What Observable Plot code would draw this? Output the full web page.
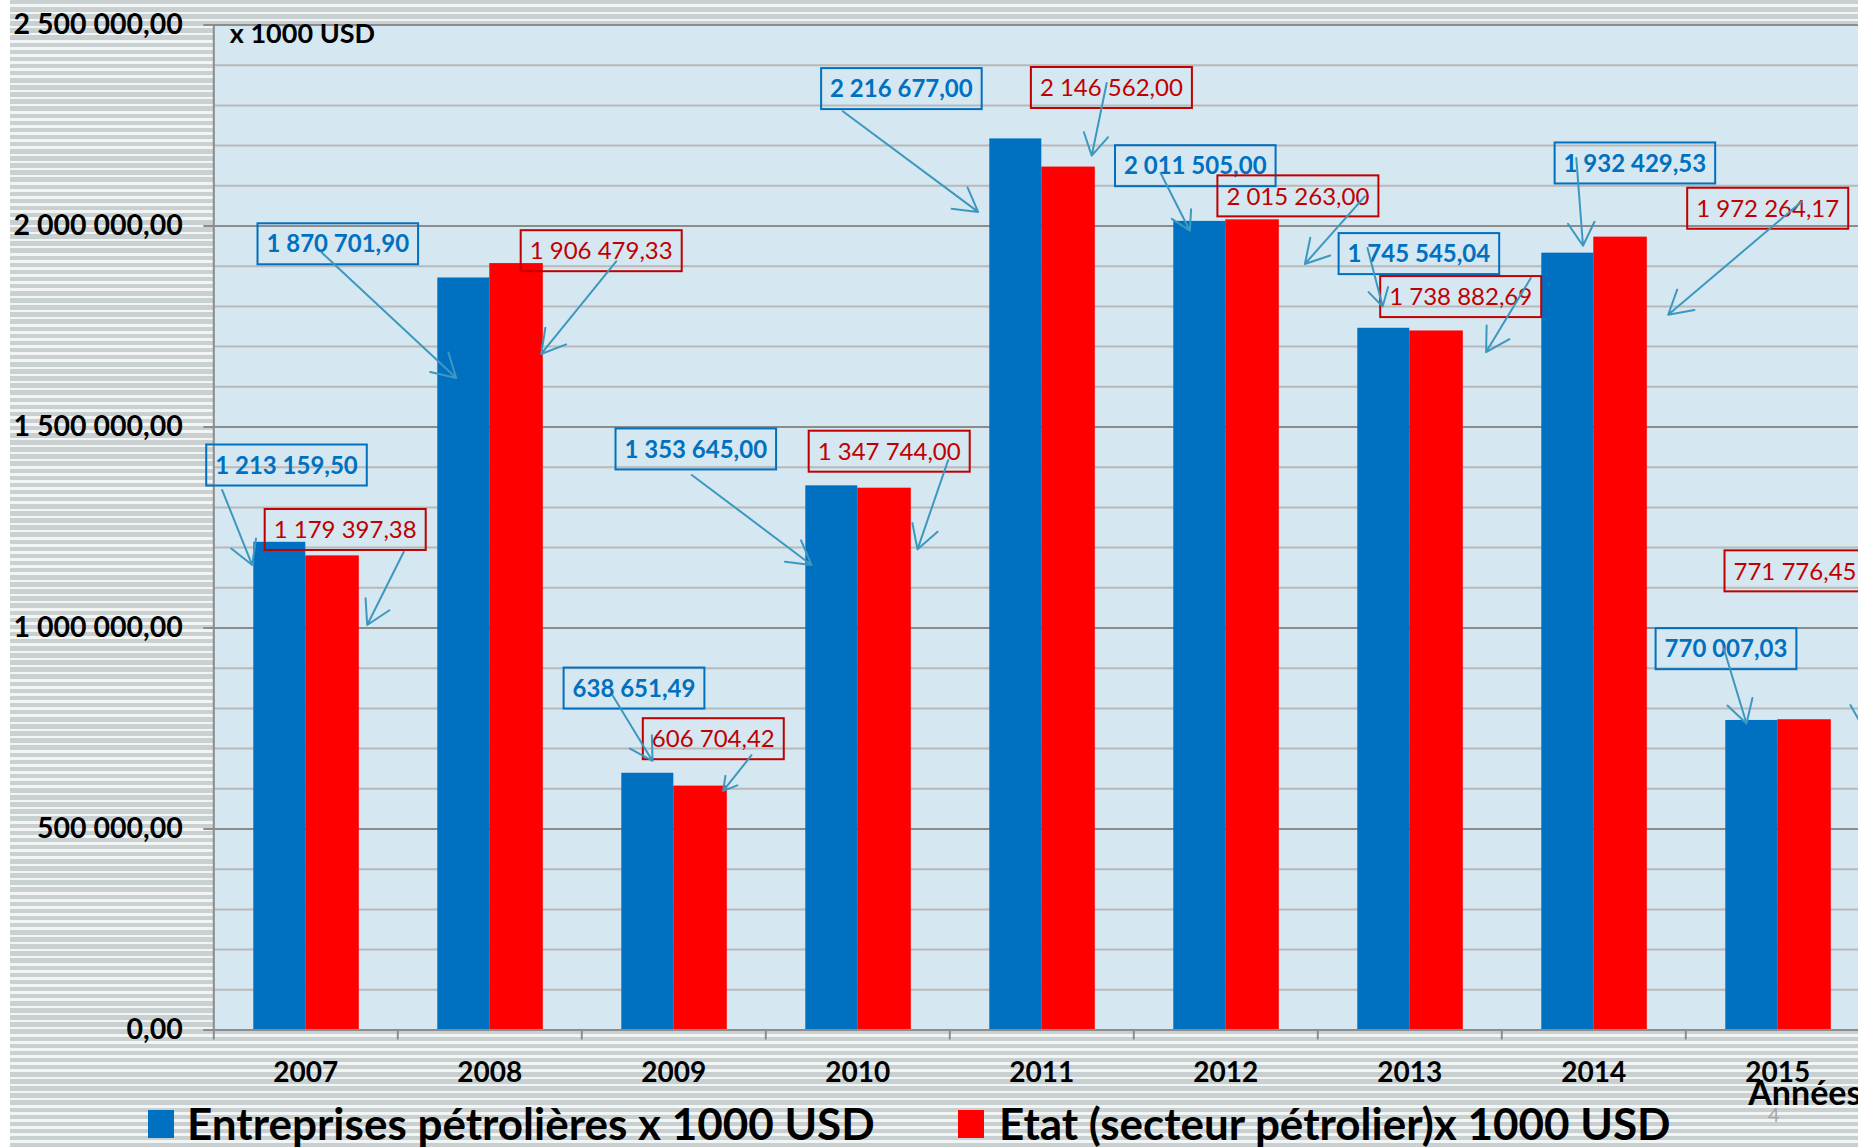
<!DOCTYPE html>
<html>
<head>
<meta charset="utf-8">
<script src="https://cdn.jsdelivr.net/npm/d3@7"></script>
<script src="https://cdn.jsdelivr.net/npm/@observablehq/plot@0.6"></script>
<style>
  html, body { margin: 0; padding: 0; width: 1858px; height: 1147px; overflow: hidden; }
  body {
    position: relative;
    font-family: Lato, "Open Sans", sans-serif;
    background:
      linear-gradient(to right, #ffffff 0 10px, transparent 10px),
      repeating-linear-gradient(to bottom, #c9d0d2 0 4.5px, #f3f4f4 4.5px 7.1px);
  }
  #chart svg { display: block; }
  .sw { position: absolute; width: 26px; height: 28px; }
  .lt { position: absolute; font: bold 44px Lato, sans-serif; line-height: 1; white-space: nowrap; color: #000; }
  .pg { position: absolute; font: 20px Lato, sans-serif; line-height: 1; color: #a6a6a6; }
</style>
</head>
<body>
<div id="chart"></div>
<script>
// ---------- data ----------
const years = ["2007", "2008", "2009", "2010", "2011", "2012", "2013", "2014", "2015"];
const seriesNames = ["Entreprises pétrolières x 1000 USD", "Etat (secteur pétrolier)x 1000 USD"];
const entreprises = [1213159.50, 1870701.90, 638651.49, 1353645.00, 2216677.00, 2011505.00, 1745545.04, 1932429.53, 770007.03];
const etat = [1179397.38, 1906479.33, 606704.42, 1347744.00, 2146562.00, 2015263.00, 1738882.69, 1972264.17, 771776.45];
const yMajorTicks = [0, 500000, 1000000, 1500000, 2000000, 2500000];
const unitLabel = "x 1000 USD";
const xAxisTitle = "Années";
const pageNumber = "4";

// ---------- layout of the callouts (pixel offsets from the band centre / bar top) ----------
// [labelDx, labelDy, arrowStartDx, arrowStartDy, arrowTipDx, arrowTipDy]
const calloutsEntreprises = [
  [-19.3, -76.3, -83.6, -52.3, -53.6, 22.7],
  [-152, -33.2, -168.6, -25.9, -33.6, 100.1],
  [-39.8, -84.2, -61.3, -78, -21.3, -12.3],
  [-162, -35.9, -166, -10.9, -46.3, 79.1],
  [-140.4, -49.3, -199, -27.6, -63.7, 73],
  [-30.5, -54.7, -65.2, -48.4, -35.9, 9.3],
  [9.1, -73.7, -42.3, -80.2, -27.1, -21.8],
  [41.1, -89.2, -17.5, -95.1, -10.8, -7.4],
  [-51.8, -70.8, -54, -72, -31.3, 3]
];
const calloutsEtat = [
  [39.4, -25.4, 98, -4.2, 61.4, 69.1],
  [111.4, -11.9, 126.4, -2.2, 51.4, 90.4],
  [39.5, -46.4, 77.7, -30.9, 49.4, 4.8],
  [31.4, -36, 90.4, -28.2, 59.7, 61.1],
  [69.6, -78.6, 64.9, -84.1, 49.9, -11.4],
  [72.1, -23, 139.1, -23.5, 79.1, 44.1],
  [50.9, -33.4, 121, -52.9, 76.3, 21.1],
  [173.9, -27.9, 208.1, -35.7, 74.4, 77.6],
  [17.2, -147.9, 72.7, -14.6, 110, 52]
];

const BLUE = "#0070C0", RED = "#FF0000", LABEL_RED = "#C00000", ARROW = "#3d98c0";
const GRID_MAJOR = "#8c8c8c", GRID_MINOR = "#b9b9b9", PLOT_BG = "#d5e7f1";

const rowsE = years.map((year, i) => ({year, series: seriesNames[0], value: entreprises[i], c: calloutsEntreprises[i]}));
const rowsS = years.map((year, i) => ({year, series: seriesNames[1], value: etat[i], c: calloutsEtat[i]}));
const rows = rowsE.concat(rowsS);

const fmt = d3.formatLocale({decimal: ",", thousands: " ", grouping: [3], currency: ["", ""]}).format(",.2f");

const measureCtx = document.createElement("canvas").getContext("2d");
function measure(txt, weight, size) {
  measureCtx.font = `${weight} ${size}px Lato`;
  return measureCtx.measureText(txt).width;
}
// Plot's x scale function already returns the centre of the band for point-like marks
function centre(scales, year) {
  return scales.x(year);
}

const LABEL_SIZE = 24;
function calloutLabels(data, color, weight) {
  return Plot.text(data, {
    x: "year", y: "value", text: d => fmt(d.value),
    fill: color, fontWeight: weight, fontSize: LABEL_SIZE, fontFamily: "Lato",
    textAnchor: "middle", lineAnchor: "middle",
    render(index, scales, values, dimensions, context, next) {
      const X = new Float64Array(data.length), Y = new Float64Array(data.length);
      for (const i of index) {
        const d = data[i];
        X[i] = centre(scales, d.year) + d.c[0];
        Y[i] = scales.y(d.value) + d.c[1];
      }
      const g = next(index, scales, {...values, x: X, y: Y}, dimensions, context);
      for (const i of index) {
        const w = measure(fmt(data[i].value), weight, LABEL_SIZE) + 18, h = 41;
        const r = document.createElementNS("http://www.w3.org/2000/svg", "rect");
        r.setAttribute("x", X[i] - w / 2);
        r.setAttribute("y", Y[i] - h / 2 - 1);
        r.setAttribute("width", w);
        r.setAttribute("height", h);
        r.setAttribute("fill", "none");
        r.setAttribute("stroke", color);
        r.setAttribute("stroke-width", 2);
        g.insertBefore(r, g.firstChild);
      }
      return g;
    }
  });
}
function calloutArrows(data) {
  return Plot.arrow(data, {
    x1: "year", y1: "value", x2: "year", y2: "value",
    stroke: ARROW, strokeWidth: 2, headLength: 20, headAngle: 60,
    render(index, scales, values, dimensions, context, next) {
      const n = data.length;
      const X1 = new Float64Array(n), Y1 = new Float64Array(n), X2 = new Float64Array(n), Y2 = new Float64Array(n);
      for (const i of index) {
        const d = data[i], cx = centre(scales, d.year), cy = scales.y(d.value);
        X1[i] = cx + d.c[2]; Y1[i] = cy + d.c[3];
        X2[i] = cx + d.c[4]; Y2[i] = cy + d.c[5];
      }
      return next(index, scales, {...values, x1: X1, y1: Y1, x2: X2, y2: Y2}, dimensions, context);
    }
  });
}

const minorTicks = d3.range(100000, 2500000, 100000).filter(v => v % 500000 !== 0);

const chart = Plot.plot({
  width: 1858,
  height: 1105,
  marginTop: 24.5,
  marginBottom: 75.5,
  marginLeft: 213.3,
  marginRight: 0,
  style: {background: "transparent", overflow: "visible", maxWidth: "none", fontFamily: "Lato"},
  x: {type: "band", domain: years, range: [213.3, 1869.3], padding: 0, round: false},
  y: {domain: [0, 2500000]},
  marks: [
    Plot.frame({fill: PLOT_BG, stroke: "none"}),
    Plot.ruleY(minorTicks, {stroke: GRID_MINOR, strokeWidth: 2}),
    Plot.ruleY(yMajorTicks, {stroke: GRID_MAJOR, strokeWidth: 2, insetLeft: -10}),
    Plot.barY(rowsE, {x: "year", y: "value", fill: BLUE, insetLeft: 40, insetRight: 92}),
    Plot.barY(rowsS, {x: "year", y: "value", fill: RED, insetLeft: 92, insetRight: 38.5}),
    Plot.ruleY([0], {stroke: GRID_MAJOR, strokeWidth: 2, insetLeft: -10}),
    Plot.ruleX([years[0]], {stroke: GRID_MAJOR, strokeWidth: 2, dx: -92}),
    Plot.axisY(yMajorTicks, {tickSize: 0, tickPadding: 31, tickFormat: fmt, fontSize: 28.5, fontWeight: "bold", fontFamily: "Lato", fill: "#000", label: null}),
    Plot.axisX({tickSize: 10, dx: -92, tickFormat: () => "", stroke: GRID_MAJOR, strokeWidth: 2, label: null}),
    Plot.axisX({tickSize: 0, tickPadding: 32, fontSize: 28, fontWeight: "bold", fontFamily: "Lato", fill: "#000", label: null}),
    Plot.text([unitLabel], {frameAnchor: "top-left", dx: 16, dy: 9, lineAnchor: "middle", textAnchor: "start", fontSize: 27, fontWeight: "bold", fontFamily: "Lato", fill: "#000"}),
    Plot.text([xAxisTitle], {frameAnchor: "bottom-left", dx: 1534.4, dy: 64, lineAnchor: "middle", textAnchor: "start", fontSize: 34, fontWeight: "bold", fontFamily: "Lato", fill: "#000"}),
    calloutLabels(rowsE, BLUE, "bold"),
    calloutLabels(rowsS, LABEL_RED, "normal"),
    calloutArrows(rows)
  ]
});
document.getElementById("chart").appendChild(chart);

// ---------- legend (below the SVG) ----------
const legendItems = [
  {name: seriesNames[0], color: BLUE, sw: 148, tx: 187},
  {name: seriesNames[1], color: RED, sw: 957.5, tx: 999}
];
for (const it of legendItems) {
  const s = document.createElement("div");
  s.className = "sw";
  s.style.left = it.sw + "px"; s.style.top = "1110px"; s.style.background = it.color;
  document.body.appendChild(s);
  const t = document.createElement("div");
  t.className = "lt";
  t.style.left = it.tx + "px"; t.style.top = "1101px";
  t.textContent = it.name;
  document.body.appendChild(t);
}
const pg = document.createElement("div");
pg.className = "pg";
pg.style.left = "1768px"; pg.style.top = "1104px";
pg.textContent = pageNumber;
document.body.appendChild(pg);
</script>
</body>
</html>
